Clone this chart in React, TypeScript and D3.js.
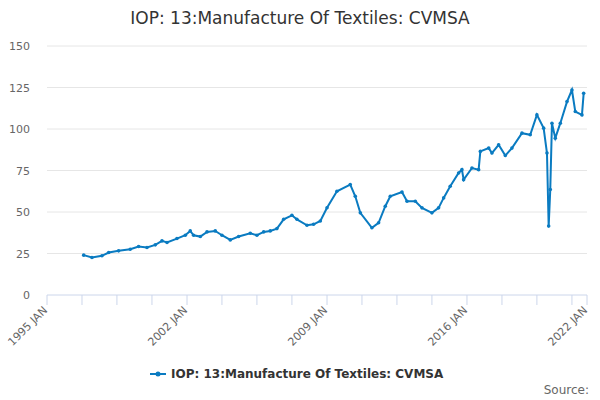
import * as d3 from "d3";

const title = "IOP: 13:Manufacture Of Textiles: CVMSA";

// month stamps and index values
const months = [
  "1996-11", "1997-04", "1997-10", "1998-02", "1998-08", "1999-03", "1999-08", "2000-01",
  "2000-06", "2000-10", "2001-01", "2001-07", "2001-12", "2002-03", "2002-05", "2002-09",
  "2003-01", "2003-06", "2003-10", "2004-03", "2004-08", "2005-03", "2005-07", "2005-11",
  "2006-03", "2006-07", "2006-11", "2007-04", "2007-07", "2008-01", "2008-05", "2008-09",
  "2009-01", "2009-07", "2010-03", "2010-06", "2010-09", "2011-04", "2011-08", "2011-12",
  "2012-03", "2012-10", "2013-01", "2013-06", "2013-10", "2014-04", "2014-08", "2014-11",
  "2015-03", "2015-08", "2015-10", "2015-11", "2016-04", "2016-08", "2016-09", "2017-02",
  "2017-04", "2017-08", "2017-12", "2018-04", "2018-10", "2019-03", "2019-07", "2019-11",
  "2020-01", "2020-02", "2020-03", "2020-04", "2020-06", "2020-09", "2021-01", "2021-04",
  "2021-06", "2021-10", "2021-11",
];
const values = [
  24, 22.6, 23.6, 25.6, 26.6, 27.6, 29.2, 28.6,
  30.2, 32.6, 31.6, 34, 36, 38.6, 36, 35.2,
  38, 38.6, 36, 33.2, 35.2, 37.2, 36, 38,
  38.6, 40, 45.6, 48, 45.6, 42, 42.6, 44.6,
  52.6, 62.5, 66.5, 59.5, 49.5, 40.5, 43.5, 53.5,
  59.5, 62, 56.5, 56.5, 52.5, 49.5, 52.5, 58.5,
  65.5, 73.5, 75.5, 69.5, 76.5, 75.5, 86.5, 88.5,
  85.5, 90.5, 84, 88.5, 97.5, 96.5, 108.5, 100.5,
  85.5, 41.5, 63.5, 103.5, 94.5, 103.5, 116.5, 123.5,
  110.5, 108.5, 121.5,
];
const yTicks = [0, 25, 50, 75, 100, 125, 150];
const xLabels = ["1995 JAN", "2002 JAN", "2009 JAN", "2016 JAN", "2022 JAN"];

const parse = d3.timeParse("%Y-%m");
const data = months.map((m, i) => ({ date: parse(m) as Date, value: values[i] }));

const color = "#0a7bc1";

export default function App() {
  const width = 600;
  const height = 400;
  const x = d3
    .scaleTime()
    .domain([new Date(1995, 0, 1), new Date(2022, 0, 1)])
    .range([47, 587]);
  const y = d3.scaleLinear().domain([0, 150]).range([295, 46]);

  // axis ticks every 21 months from 1995 JAN, plus the end
  const tickDates: Date[] = [];
  for (let m = 0; m <= 27 * 12; m += 21) tickDates.push(new Date(1995, m, 1));
  tickDates.push(new Date(2022, 0, 1));

  const line = d3
    .line<{ date: Date; value: number }>()
    .x((d) => x(d.date))
    .y((d) => y(d.value));

  const font = "'DejaVu Sans', sans-serif";

  return (
    <svg width={width} height={height} style={{ position: "absolute", left: 0, top: 0 }} fontFamily={font}>
      <rect width={width} height={height} fill="#fff" />
      <text x={300} y={24} textAnchor="middle" fontSize={17} fill="#333">
        {title}
      </text>
      {yTicks.map((t) => (
        <g key={t}>
          {t > 0 && <line x1={47} x2={587} y1={y(t)} y2={y(t)} stroke="#e6e6e6" />}
          <text x={30} y={y(t) + 4} textAnchor="end" fontSize={11} fill="#666">
            {t}
          </text>
        </g>
      ))}
      <line x1={47} x2={587} y1={295} y2={295} stroke="#ccd6eb" />
      {tickDates.map((d, i) => (
        <line key={i} x1={x(d)} x2={x(d)} y1={295} y2={305} stroke="#ccd6eb" />
      ))}
      {xLabels.map((l) => {
        const [yr] = l.split(" ");
        const px = x(new Date(+yr, 0, 1));
        return (
          <text
            key={l}
            transform={`translate(${px + 1},${311}) rotate(-45)`}
            textAnchor="end"
            fontSize={11}
            fill="#666"
          >
            {l}
          </text>
        );
      })}
      <path d={line(data) ?? ""} fill="none" stroke={color} strokeWidth={2} />
      {data.map((d, i) => (
        <circle key={i} cx={x(d.date)} cy={y(d.value)} r={1.8} fill={color} />
      ))}
      <g transform="translate(150,374)">
        <line x1={0} x2={16} y1={0} y2={0} stroke={color} strokeWidth={2} />
        <circle cx={8} cy={0} r={2.5} fill={color} />
        <text x={21} y={4} fontSize={12} fontWeight="bold" fill="#333">
          {title}
        </text>
      </g>
      <text x={589} y={394} textAnchor="end" fontSize={12} fill="#666">
        Source:
      </text>
    </svg>
  );
}
